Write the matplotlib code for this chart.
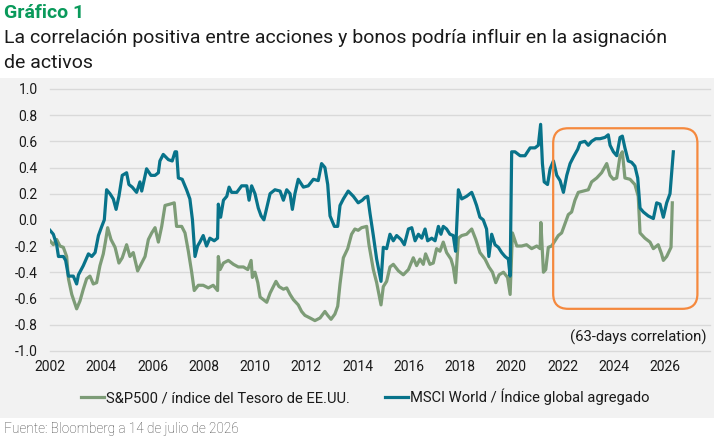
import matplotlib
matplotlib.use("Agg")
import matplotlib.pyplot as plt
from matplotlib.patches import FancyBboxPatch, Rectangle

plt.rcParams["font.family"] = ["Roboto", "DejaVu Sans"]

# S&P500 / US Treasury index, 63-day correlation
sp_years = [
    2002.00, 2002.13, 2002.26, 2002.39, 2002.52, 2002.65, 2002.72, 2002.85, 2003.04, 2003.17,
    2003.30, 2003.43, 2003.56, 2003.69, 2003.82, 2003.95, 2004.08, 2004.17, 2004.25, 2004.38,
    2004.54, 2004.69, 2004.82, 2004.99, 2005.12, 2005.25, 2005.42, 2005.58, 2005.71, 2005.84,
    2005.97, 2006.10, 2006.23, 2006.36, 2006.49, 2006.68, 2006.85, 2006.94, 2007.14, 2007.27,
    2007.40, 2007.53, 2007.63, 2007.79, 2007.98, 2008.18, 2008.37, 2008.54, 2008.57, 2008.64,
    2008.77, 2008.96, 2009.16, 2009.35, 2009.55, 2009.72, 2009.85, 2009.90, 2010.00, 2010.11,
    2010.20, 2010.33, 2010.46, 2010.59, 2010.72, 2010.82, 2010.94, 2011.11, 2011.24, 2011.37,
    2011.50, 2011.69, 2011.82, 2011.95, 2012.15, 2012.34, 2012.54, 2012.73, 2012.84, 2012.97,
    2013.12, 2013.23, 2013.32, 2013.45, 2013.62, 2013.77, 2013.90, 2014.03, 2014.16, 2014.36,
    2014.45, 2014.62, 2014.75, 2014.92, 2015.01, 2015.14, 2015.27, 2015.40, 2015.60, 2015.79,
    2015.99, 2016.18, 2016.31, 2016.44, 2016.57, 2016.66, 2016.83, 2016.96, 2017.09, 2017.22,
    2017.35, 2017.48, 2017.65, 2017.74, 2017.83, 2017.94, 2018.07, 2018.26, 2018.46, 2018.62,
    2018.78, 2018.98, 2019.13, 2019.27, 2019.40, 2019.53, 2019.70, 2019.86, 2019.96, 2020.05,
    2020.22, 2020.41, 2020.60, 2020.80, 2021.00, 2021.13, 2021.16, 2021.26, 2021.35, 2021.45,
    2021.58, 2021.71, 2021.84, 2021.97, 2022.10, 2022.23, 2022.36, 2022.49, 2022.62, 2022.82,
    2023.01, 2023.14, 2023.34, 2023.53, 2023.73, 2023.86, 2023.99, 2024.12, 2024.25, 2024.34,
    2024.44, 2024.64, 2024.83, 2024.96, 2025.03, 2025.22, 2025.42, 2025.55, 2025.74, 2025.87,
    2025.94, 2026.07, 2026.24, 2026.29,
]
sp_vals = [
    -0.16, -0.19, -0.15, -0.20, -0.21, -0.28, -0.45, -0.57, -0.68, -0.62,
    -0.53, -0.45, -0.43, -0.49, -0.48, -0.35, -0.26, -0.16, -0.06, -0.15,
    -0.21, -0.33, -0.29, -0.19, -0.28, -0.25, -0.39, -0.33, -0.28, -0.15,
    -0.10, -0.06, -0.17, -0.05, 0.11, 0.12, 0.13, -0.05, -0.05, -0.10,
    -0.24, -0.40, -0.54, -0.50, -0.50, -0.52, -0.50, -0.54, -0.28, -0.38,
    -0.33, -0.31, -0.34, -0.36, -0.36, -0.38, -0.31, -0.44, -0.40, -0.48,
    -0.59, -0.61, -0.63, -0.56, -0.51, -0.47, -0.51, -0.53, -0.52, -0.57,
    -0.61, -0.65, -0.70, -0.73, -0.75, -0.77, -0.75, -0.70, -0.73, -0.76,
    -0.72, -0.66, -0.49, -0.29, -0.22, -0.11, -0.07, -0.08, -0.06, -0.05,
    -0.19, -0.38, -0.48, -0.65, -0.51, -0.47, -0.36, -0.34, -0.39, -0.42,
    -0.38, -0.29, -0.35, -0.30, -0.34, -0.26, -0.34, -0.33, -0.22, -0.24,
    -0.17, -0.25, -0.30, -0.36, -0.48, -0.14, -0.12, -0.11, -0.07, -0.15,
    -0.25, -0.30, -0.36, -0.40, -0.48, -0.42, -0.40, -0.44, -0.57, -0.10,
    -0.20, -0.20, -0.19, -0.22, -0.20, -0.22, -0.02, -0.40, -0.38, -0.21,
    -0.20, -0.16, -0.12, -0.10, -0.03, 0.04, 0.06, 0.15, 0.21, 0.22,
    0.23, 0.29, 0.32, 0.36, 0.43, 0.34, 0.31, 0.32, 0.49, 0.52,
    0.32, 0.31, 0.27, 0.18, -0.10, -0.14, -0.17, -0.22, -0.19, -0.26,
    -0.31, -0.28, -0.21, 0.13,
]

# MSCI World / Global Aggregate index, 63-day correlation
msci_years = [
    2002.00, 2002.13, 2002.26, 2002.33, 2002.52, 2002.61, 2002.72, 2002.91, 2003.04, 2003.11,
    2003.30, 2003.50, 2003.63, 2003.76, 2003.89, 2004.02, 2004.12, 2004.21, 2004.34, 2004.47,
    2004.58, 2004.69, 2004.82, 2004.99, 2005.08, 2005.21, 2005.38, 2005.51, 2005.58, 2005.77,
    2005.94, 2006.10, 2006.23, 2006.29, 2006.42, 2006.62, 2006.77, 2006.88, 2006.94, 2007.01,
    2007.16, 2007.33, 2007.46, 2007.56, 2007.66, 2007.76, 2007.85, 2007.98, 2008.11, 2008.24,
    2008.41, 2008.54, 2008.57, 2008.66, 2008.77, 2008.90, 2008.99, 2009.09, 2009.29, 2009.48,
    2009.68, 2009.77, 2009.87, 2010.00, 2010.13, 2010.24, 2010.35, 2010.46, 2010.59, 2010.78,
    2010.98, 2011.11, 2011.24, 2011.37, 2011.46, 2011.56, 2011.69, 2011.89, 2012.08, 2012.28,
    2012.47, 2012.60, 2012.73, 2012.84, 2012.93, 2013.10, 2013.23, 2013.32, 2013.45, 2013.64,
    2013.84, 2014.03, 2014.19, 2014.29, 2014.40, 2014.49, 2014.62, 2014.75, 2014.92, 2015.01,
    2015.14, 2015.27, 2015.40, 2015.53, 2015.70, 2015.83, 2015.99, 2016.12, 2016.25, 2016.38,
    2016.51, 2016.64, 2016.74, 2016.90, 2017.03, 2017.16, 2017.26, 2017.35, 2017.48, 2017.61,
    2017.74, 2017.83, 2017.94, 2018.07, 2018.26, 2018.46, 2018.56, 2018.65, 2018.78, 2018.91,
    2019.04, 2019.13, 2019.24, 2019.37, 2019.50, 2019.63, 2019.76, 2019.89, 2019.96, 2020.02,
    2020.15, 2020.35, 2020.54, 2020.74, 2020.93, 2021.06, 2021.15, 2021.22, 2021.29, 2021.42,
    2021.52, 2021.65, 2021.78, 2021.91, 2022.04, 2022.17, 2022.30, 2022.43, 2022.60, 2022.69,
    2022.88, 2023.01, 2023.14, 2023.30, 2023.47, 2023.66, 2023.79, 2023.86, 2023.99, 2024.12,
    2024.25, 2024.34, 2024.44, 2024.57, 2024.70, 2024.83, 2024.94, 2025.03, 2025.16, 2025.35,
    2025.55, 2025.68, 2025.81, 2025.94, 2026.07, 2026.20, 2026.26, 2026.33,
]
msci_vals = [
    -0.08, -0.11, -0.19, -0.28, -0.28, -0.31, -0.43, -0.43, -0.49, -0.42,
    -0.35, -0.26, -0.28, -0.25, -0.12, -0.05, 0.00, 0.23, 0.20, 0.16,
    0.08, 0.18, 0.34, 0.36, 0.27, 0.25, 0.21, 0.29, 0.22, 0.39,
    0.34, 0.34, 0.36, 0.45, 0.50, 0.46, 0.45, 0.52, 0.52, 0.32,
    0.31, 0.23, 0.16, 0.00, -0.28, -0.20, -0.17, -0.12, -0.20, -0.14,
    -0.16, -0.14, 0.12, 0.02, 0.15, 0.18, 0.25, 0.21, 0.21, 0.26,
    0.26, 0.15, 0.26, 0.20, 0.09, 0.03, 0.00, 0.09, 0.20, 0.23,
    0.22, 0.15, 0.23, 0.20, 0.08, 0.20, 0.31, 0.25, 0.26, 0.31,
    0.30, 0.43, 0.40, 0.27, 0.03, -0.05, -0.05, 0.11, 0.16, 0.22,
    0.18, 0.13, 0.15, 0.17, 0.18, 0.05, -0.12, -0.30, -0.47, -0.21,
    -0.22, -0.11, -0.16, -0.12, -0.15, -0.19, -0.07, -0.06, -0.16, -0.11,
    -0.14, -0.07, -0.16, -0.14, -0.16, -0.05, -0.11, -0.05, -0.07, -0.11,
    -0.12, -0.24, 0.23, 0.16, 0.18, 0.21, 0.16, 0.11, 0.02, 0.00,
    -0.07, -0.28, -0.11, -0.19, -0.21, -0.25, -0.28, -0.30, -0.43, 0.52,
    0.52, 0.49, 0.49, 0.55, 0.55, 0.57, 0.73, 0.43, 0.29, 0.27,
    0.39, 0.45, 0.34, 0.30, 0.21, 0.34, 0.43, 0.48, 0.54, 0.59,
    0.60, 0.57, 0.60, 0.62, 0.62, 0.63, 0.65, 0.57, 0.52, 0.49,
    0.63, 0.64, 0.55, 0.45, 0.44, 0.41, 0.32, 0.09, 0.06, 0.03,
    0.01, 0.13, 0.12, 0.02, 0.13, 0.20, 0.35, 0.52,
]

x_ticks = list(range(2002, 2027, 2))
y_ticks = [1.0, 0.8, 0.6, 0.4, 0.2, 0.0, -0.2, -0.4, -0.6, -0.8, -1.0]
# highlighted period (orange rounded box)
box_x = (2021.64, 2027.27)
box_y = (-0.68, 0.70)

GREEN = "#7d9c77"
BLUE = "#08738a"
ORANGE = "#f5893e"
PANEL = "#f2f2f2"
TEXT = "#1a1a1a"

W, H = 725, 438
fig = plt.figure(figsize=(W / 100, H / 100), dpi=100)
fig.patch.set_facecolor("white")

# grey panel behind the chart
fig.add_artist(Rectangle((0, 20 / H), 714 / W, 340 / H, transform=fig.transFigure,
                         facecolor=PANEL, edgecolor="none", zorder=0))

ax_l, ax_r, ax_t, ax_b = 50, 710, 89, 350.7
ax = fig.add_axes([ax_l / W, 1 - ax_b / H, (ax_r - ax_l) / W, (ax_b - ax_t) / H])
ax.set_facecolor(PANEL)

ax.plot(sp_years, sp_vals, color=GREEN, lw=2.3, solid_joinstyle="round",
        label="S&P500 / índice del Tesoro de EE.UU.", zorder=3)
ax.plot(msci_years, msci_vals, color=BLUE, lw=2.3, solid_joinstyle="round",
        label="MSCI World / Índice global agregado", zorder=4)

xmin, xmax = 2002, 2002 + (ax_r - ax_l) / 25.62
ax.set_xlim(xmin, xmax)
ax.set_ylim(-1.0, 1.0)
ax.set_xticks(x_ticks)
ax.set_yticks(y_ticks)
ax.set_yticklabels([f"{v:.1f}" for v in y_ticks])
ax.tick_params(length=0, labelsize=10, colors=TEXT)
ax.tick_params(axis="y", pad=9)
ax.tick_params(axis="x", pad=7)
for v in y_ticks:
    ax.axhline(v, color="#d9d9d9", lw=1, zorder=1, clip_on=False)
for s in ax.spines.values():
    s.set_visible(False)

# rounded highlight box, corner radius ~15 px
x_per_px = (xmax - xmin) / (ax_r - ax_l)
y_per_px = 2.0 / (ax_b - ax_t)
box = FancyBboxPatch((box_x[0], box_y[0]), box_x[1] - box_x[0], box_y[1] - box_y[0],
                     boxstyle=f"round,pad=0,rounding_size={15 * x_per_px}",
                     mutation_aspect=y_per_px / x_per_px,
                     facecolor="none", edgecolor=ORANGE, lw=1.6, zorder=5)
ax.add_patch(box)

ax.text(0.995, 0.05, "(63-days correlation)", transform=ax.transAxes,
        ha="right", va="center", fontsize=10.7, color=TEXT)

fig.legend(loc="center", bbox_to_anchor=(365 / W, 1 - 397 / H), ncol=2, frameon=False,
           fontsize=10.6, handlelength=1.6, handletextpad=0.1, columnspacing=2.4,
           labelcolor=TEXT)

fig.text(4 / W, 1 - 17.5 / H, "Gráfico 1", fontsize=14, fontweight="bold",
         color="#0a9a5b", va="baseline", ha="left")
fig.text(4 / W, 1 - 42.7 / H,
         "La correlación positiva entre acciones y bonos podría influir en la asignación",
         fontsize=14, color=TEXT, va="baseline", ha="left")
fig.text(4 / W, 1 - 68 / H, "de activos", fontsize=14, color=TEXT,
         va="baseline", ha="left")
fig.text(4 / W, 1 - 433 / H, "Fuente: Bloomberg a 14 de julio de 2026", fontsize=9.8,
         color="#444444", fontweight="light", va="baseline", ha="left")

fig.savefig("out.png", dpi=100)
